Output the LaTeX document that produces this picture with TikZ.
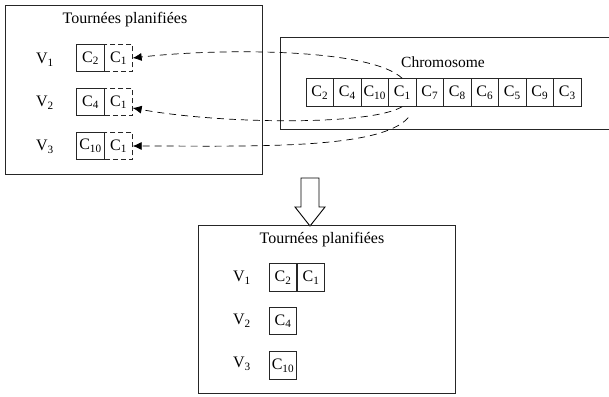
\documentclass[tikz,border=0pt]{standalone}
\usepackage{fontspec}
\setmainfont{Liberation Serif}
\usetikzlibrary{arrows.meta}
\begin{document}
\begin{tikzpicture}[x=1pt,y=-1pt,
  every node/.style={font=\fontsize{16}{19}\selectfont},
  frame/.style={draw=black!85, line width=0.9pt},
  cell/.style={draw=black!85, line width=0.8pt, minimum width=27.5pt, minimum height=27.5pt, inner sep=0pt},
  dcell/.style={cell, dashed, dash pattern=on 5pt off 3pt},
  link/.style={dashed, dash pattern=on 7pt off 5pt, line width=0.7pt, -{Latex[length=9pt,width=8pt]}}]
\useasboundingbox (0,0) rectangle (609,396);
% top-left box
\draw[frame] (5,5) rectangle (262,174);
\node (t1) at (125,20) {Tournées planifiées};
\node (v1) at (45,60) {V\textsubscript{1}};
\node (v2) at (45,103) {V\textsubscript{2}};
\node (v3) at (45,147) {V\textsubscript{3}};
\node[cell] (a1) at (90.5,58) {C\textsubscript{2}};
\node[dcell] (d1) at (118.5,58) {C\textsubscript{1}};
\node[cell] (a2) at (90.5,102) {C\textsubscript{4}};
\node[dcell] (d2) at (118.5,102) {C\textsubscript{1}};
\node[cell] (a3) at (90.5,146) {C\textsubscript{10}};
\node[dcell] (d3) at (118.5,146) {C\textsubscript{1}};
% chromosome box
\draw[frame] (280,37) rectangle (616,129);
\node[font=\fontsize{15.5}{18}\selectfont] (ct) at (443,62) {Chromosome};
\foreach \i/\c in {1/2,2/4,3/10,4/1,5/7,6/8,7/6,8/5,9/9,10/3}{
  \node[cell] (ch\i) at ({306+(\i-0.5)*27.5},92.5) {C\textsubscript{\c}};
}
% dashed links
\draw[link] (ch4.north) .. controls (370,48) and (220,48) .. (d1.east);
\draw[link] (ch4.south) .. controls (370,126) and (220,124) .. ([yshift=-6pt]d2.east);
\coordinate (s3) at ([xshift=6pt,yshift=-11pt]ch4.south);
\draw[link] (s3) .. controls (380,150) and (250,146) .. (d3.east);
% hollow arrow
\draw[line width=0.9pt, fill=white] (301,178) -- (319,178) -- (319,207) -- (325,207) -- (310,226) -- (295,207) -- (301,207) -- cycle;
% bottom box
\draw[frame] (198,225) rectangle (455,393);
\node (t2) at (322,240) {Tournées planifiées};
\node (w1) at (242,278) {V\textsubscript{1}};
\node (w2) at (242,321) {V\textsubscript{2}};
\node (w3) at (242,364) {V\textsubscript{3}};
\node[cell] (b1) at (283,277.5) {C\textsubscript{2}};
\node[cell] (b1b) at (311,277.5) {C\textsubscript{1}};
\node[cell] (b2) at (283,321) {C\textsubscript{4}};
\node[cell] (b3) at (283,365.5) {C\textsubscript{10}};
\end{tikzpicture}
\end{document}
